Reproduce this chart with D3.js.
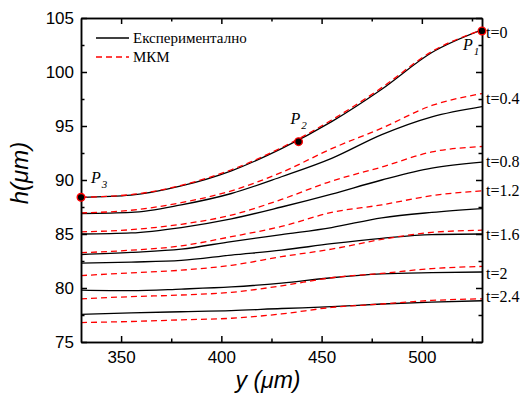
<!DOCTYPE html>
<html>
<head>
<meta charset="utf-8">
<script src="https://unpkg.com/d3@7/dist/d3.min.js"></script>
<style>
  body { margin: 0; background: #fff; }
  .axis path, .axis line { stroke: #000; stroke-width: 1.5; }
  .axis text { font-family: "Liberation Sans", Arial, sans-serif; font-size: 17px; fill: #000; }
</style>
</head>
<body>
<svg id="chart" width="524" height="396"></svg>
<script>
// positions along the profile (µm)
var ys = [330, 355, 380, 405, 430, 455, 480, 505, 530];

// time labels shown on the right
var times = ["t=0", "t=0.4", "t=0.8", "t=1.2", "t=1.6", "t=2", "t=2.4"];
// where each label sits (h value of its middle)
var timeLabelH = [103.7, 97.6, 91.7, 89.0, 84.95, 81.35, 79.2];

// experimental profiles, one row per time
var expt = [
  [88.4, 88.6, 89.45, 90.85, 92.9, 95.4, 98.4, 101.8, 103.9],
  [86.9, 87.0, 87.7, 88.75, 90.3, 92.0, 94.2, 95.85, 96.8],
  [85.0, 85.1, 85.6, 86.4, 87.5, 88.7, 90.0, 91.1, 91.65],
  [83.1, 83.3, 83.6, 84.3, 84.95, 85.6, 86.5, 87.0, 87.35],
  [82.3, 82.4, 82.55, 83.05, 83.5, 84.1, 84.6, 84.95, 85.0],
  [79.8, 79.75, 79.9, 80.1, 80.45, 80.95, 81.3, 81.42, 81.48],
  [77.55, 77.7, 77.8, 77.9, 78.1, 78.27, 78.52, 78.7, 78.82]
];

// MKM (model) profiles, one row per time
var mkm = [
  [88.4, 88.65, 89.5, 90.95, 93.0, 95.55, 98.55, 101.9, 103.9],
  [86.95, 87.2, 87.9, 89.0, 90.7, 92.9, 94.8, 96.9, 98.0],
  [85.2, 85.4, 85.9, 86.75, 88.2, 89.9, 91.2, 92.6, 93.1],
  [83.27, 83.5, 83.9, 84.75, 85.7, 87.0, 87.7, 88.55, 89.0],
  [81.15, 81.4, 81.65, 82.1, 82.9, 83.6, 84.5, 85.15, 85.35],
  [79.0, 79.2, 79.35, 79.6, 80.2, 80.95, 81.35, 81.8, 82.0],
  [76.8, 76.9, 77.05, 77.2, 77.6, 78.2, 78.52, 78.85, 79.0]
];

// marked points P1..P3
var pointNames = ["P", "P", "P"];
var pointSubs = ["1", "2", "3"];
var pointY = [530, 438.5, 330];
var pointH = [103.8, 93.55, 88.4];

var yTicks = [75, 80, 85, 90, 95, 100, 105];
var yMinor = [77.5, 82.5, 87.5, 92.5, 97.5, 102.5];
var xTicks = [350, 400, 450, 500];
var xMinor = [375, 425, 475, 525];

var mLeft = 81, mRight = 482, mTop = 18, mBottom = 342;

var svg = d3.select("#chart");

var x = d3.scaleLinear().domain([330, 530]).range([mLeft, mRight]);
var y = d3.scaleLinear().domain([75, 105]).range([mBottom, mTop]);

svg.append("defs").append("clipPath").attr("id", "clip")
  .append("rect")
  .attr("x", mLeft).attr("y", mTop)
  .attr("width", mRight - mLeft).attr("height", mBottom - mTop);

// lines
var line = d3.line()
  .x(function(d, i) { return x(ys[i]); })
  .y(function(d) { return y(d); })
  .curve(d3.curveMonotoneX);

var plot = svg.append("g").attr("clip-path", "url(#clip)");

plot.selectAll(".expt")
  .data(expt)
  .enter().append("path")
  .attr("class", "expt")
  .attr("d", line)
  .attr("fill", "none")
  .attr("stroke", "#000")
  .attr("stroke-width", 1.3);

plot.selectAll(".mkm")
  .data(mkm)
  .enter().append("path")
  .attr("class", "mkm")
  .attr("d", line)
  .attr("fill", "none")
  .attr("stroke", "#ff0000")
  .attr("stroke-width", 1.3)
  .attr("stroke-dasharray", "6,4");

// axes (ticks inward, mirrored on top / right)
function styleAxis(g) {
  g.attr("class", "axis");
}

svg.append("g").call(styleAxis)
  .attr("transform", "translate(" + mLeft + ",0)")
  .call(d3.axisLeft(y).tickValues(yTicks).tickSize(-6).tickSizeOuter(0).tickPadding(7));
svg.append("g").call(styleAxis)
  .attr("transform", "translate(" + mLeft + ",0)")
  .call(d3.axisLeft(y).tickValues(yMinor).tickSize(-3.5).tickSizeOuter(0).tickFormat(""));

svg.append("g").call(styleAxis)
  .attr("transform", "translate(" + mRight + ",0)")
  .call(d3.axisRight(y).tickValues(yTicks).tickSize(-6).tickSizeOuter(0).tickFormat(""));
svg.append("g").call(styleAxis)
  .attr("transform", "translate(" + mRight + ",0)")
  .call(d3.axisRight(y).tickValues(yMinor).tickSize(-3.5).tickSizeOuter(0).tickFormat(""));

svg.append("g").call(styleAxis)
  .attr("transform", "translate(0," + mBottom + ")")
  .call(d3.axisBottom(x).tickValues(xTicks).tickSize(-6).tickSizeOuter(0).tickPadding(9));
svg.append("g").call(styleAxis)
  .attr("transform", "translate(0," + mBottom + ")")
  .call(d3.axisBottom(x).tickValues(xMinor).tickSize(-3.5).tickSizeOuter(0).tickFormat(""));

svg.append("g").call(styleAxis)
  .attr("transform", "translate(0," + mTop + ")")
  .call(d3.axisTop(x).tickValues(xTicks).tickSize(-6).tickSizeOuter(0).tickFormat(""));
svg.append("g").call(styleAxis)
  .attr("transform", "translate(0," + mTop + ")")
  .call(d3.axisTop(x).tickValues(xMinor).tickSize(-3.5).tickSizeOuter(0).tickFormat(""));

// axis titles
svg.append("text")
  .attr("transform", "translate(28,173) rotate(-90)")
  .attr("text-anchor", "middle")
  .style("font-family", "Liberation Sans, Arial, sans-serif")
  .style("font-style", "italic")
  .style("font-size", "24px")
  .text("h(\u03bcm)");

svg.append("text")
  .attr("x", 268).attr("y", 388)
  .attr("text-anchor", "middle")
  .style("font-family", "Liberation Sans, Arial, sans-serif")
  .style("font-style", "italic")
  .style("font-size", "23px")
  .text("y (\u03bcm)");

// time labels
svg.selectAll(".tlab")
  .data(times)
  .enter().append("text")
  .attr("class", "tlab")
  .attr("x", mRight + 4)
  .attr("y", function(d, i) { return y(timeLabelH[i]); })
  .attr("dy", "0.35em")
  .style("font-family", "Liberation Serif, Times New Roman, serif")
  .style("font-size", "16px")
  .text(function(d) { return d; });

// marked points
svg.selectAll(".pt")
  .data(pointY)
  .enter().append("circle")
  .attr("class", "pt")
  .attr("cx", function(d) { return x(d); })
  .attr("cy", function(d, i) { return y(pointH[i]); })
  .attr("r", 3.8)
  .attr("fill", "#000")
  .attr("stroke", "#ff0000")
  .attr("stroke-width", 1.4);

var pOffsets = [[-19, 19], [-8, -18], [10, -14]];
var plab = svg.selectAll(".plab")
  .data(pointNames)
  .enter().append("text")
  .attr("class", "plab")
  .attr("x", function(d, i) { return x(pointY[i]) + pOffsets[i][0]; })
  .attr("y", function(d, i) { return y(pointH[i]) + pOffsets[i][1]; })
  .style("font-family", "Liberation Serif, Times New Roman, serif")
  .style("font-style", "italic")
  .style("font-size", "16px");
plab.append("tspan").text(function(d) { return d; });
plab.append("tspan")
  .attr("dy", 5)
  .attr("dx", 1)
  .style("font-size", "11px")
  .text(function(d, i) { return pointSubs[i]; });

// legend
var legend = svg.append("g");
legend.append("line")
  .attr("x1", 96).attr("x2", 129).attr("y1", 38).attr("y2", 38)
  .attr("stroke", "#000").attr("stroke-width", 1.3);
legend.append("line")
  .attr("x1", 96).attr("x2", 129).attr("y1", 57).attr("y2", 57)
  .attr("stroke", "#ff0000").attr("stroke-width", 1.3)
  .attr("stroke-dasharray", "6,4");
legend.append("text")
  .attr("x", 133).attr("y", 43)
  .style("font-family", "Liberation Serif, Times New Roman, serif")
  .style("font-size", "15px")
  .text("Експериментално");
legend.append("text")
  .attr("x", 133).attr("y", 62)
  .style("font-family", "Liberation Serif, Times New Roman, serif")
  .style("font-size", "15px")
  .text("МКМ");
</script>
</body>
</html>
